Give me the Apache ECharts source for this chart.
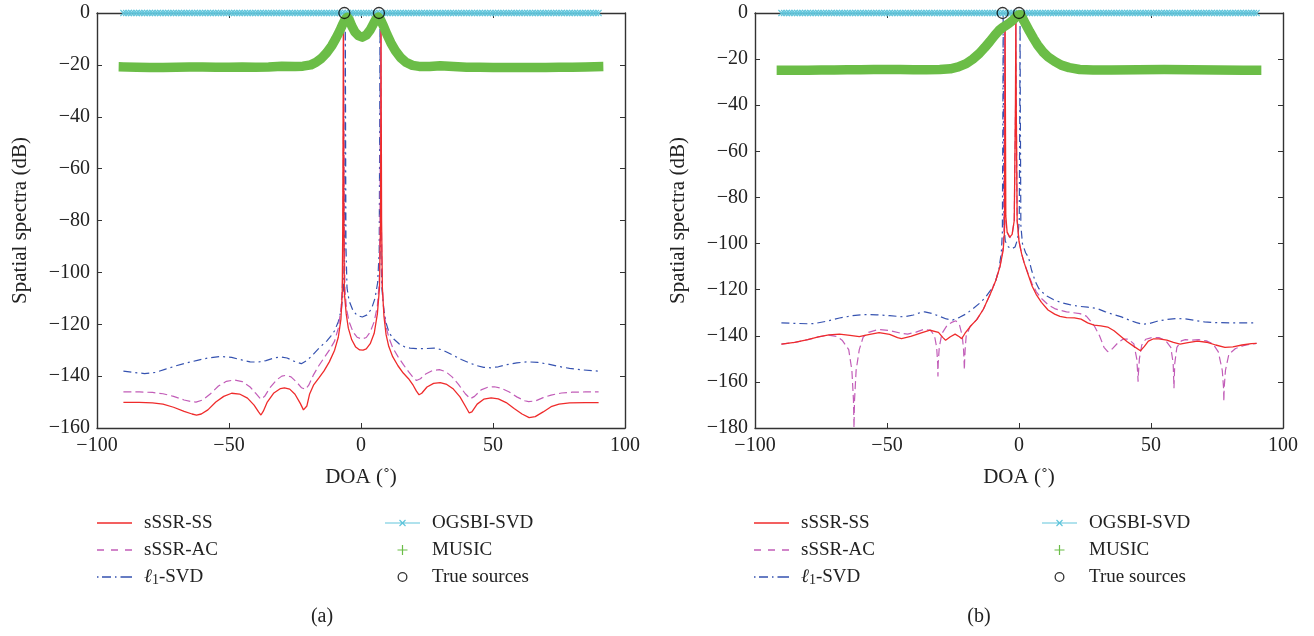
<!DOCTYPE html>
<html>
<head>
<meta charset="utf-8">
<script src="https://cdn.jsdelivr.net/npm/echarts@6/dist/echarts.min.js"></script>
<style>
html,body{margin:0;padding:0;background:#fff;}
#chart{width:1314px;height:636px;}
</style>
</head>
<body>
<div id="chart"></div>
<script>
// ---------- DATA (DOA in degrees, spectra in dB) ----------
const xTicks = [-100, -50, 0, 50, 100];
const seriesNames = ['sSSR-SS', 'sSSR-AC', 'ℓ1-SVD', 'OGSBI-SVD', 'MUSIC', 'True sources'];
const panelCaptions = ['(a)', '(b)'];

// Panel (a)
const a_ssrSS = [[-90,-150.1],[-84,-150.1],[-79,-150.3],[-75,-150.8],[-71,-152],[-67,-153.6],[-64,-154.6],[-62.3,-155],[-60.5,-154.6],[-58,-153],[-55,-150],[-52,-147.8],[-49,-146.6],[-46,-146.9],[-43,-148.5],[-40.5,-151.2],[-38.8,-153.8],[-37.9,-155],[-37,-153.5],[-35.5,-150],[-33,-146.5],[-30.5,-144.8],[-29,-144.5],[-27,-145],[-25,-147],[-23,-150.5],[-21.8,-153],[-21.2,-153.3],[-20.5,-151.5],[-19.5,-147],[-18,-143.5],[-16,-140.8],[-14,-138],[-12,-134.5],[-10,-130],[-8.6,-125],[-7.6,-118],[-7.1,-108],[-6.9,-80],[-6.75,-30],[-6.7,-4],[-6.65,-30],[-6.5,-80],[-6.3,-108],[-5.6,-116],[-4.8,-121.5],[-3.5,-126],[-2,-128.8],[-0.5,-129.9],[0.8,-130],[2,-129.5],[3.5,-127.5],[5,-123.5],[6.2,-116],[7.0,-106],[7.4,-80],[7.55,-30],[7.6,-4],[7.65,-30],[7.8,-80],[8.1,-106],[8.7,-117],[9.5,-124],[10.5,-128.5],[12,-132.5],[14,-136],[16,-138.8],[18,-141],[19.8,-143.6],[21,-145.8],[22,-147.2],[23,-146.6],[25,-144.2],[27.5,-142.8],[30,-142.5],[32.5,-143.2],[35,-145],[37.5,-148],[39.5,-151.5],[41,-154.2],[42,-153.8],[44,-150.8],[46.5,-148.9],[49.3,-148.4],[52,-148.8],[55,-150.2],[58,-152.5],[61,-154.6],[63.7,-156],[66,-155.6],[69,-153.8],[72,-151.8],[75,-150.8],[79,-150.3],[85,-150.2],[90,-150.2]];
const a_ssrAC = [[-90,-146.1],[-84,-146.1],[-79,-146.3],[-75,-146.8],[-71,-147.8],[-67,-149.2],[-64,-149.9],[-62.5,-150],[-60,-149.2],[-57,-146.8],[-54,-143.8],[-51,-142],[-48,-141.5],[-45,-142.1],[-42,-144.2],[-40,-146.5],[-38,-148.9],[-36.5,-147.8],[-34.5,-144.5],[-32,-141.5],[-30,-140],[-28.5,-139.7],[-26.5,-140.3],[-24.5,-142.2],[-22.5,-144.5],[-21,-145.1],[-19.8,-143.5],[-18,-139.5],[-16,-136],[-14,-133],[-12,-130],[-10,-126.5],[-8.6,-121.5],[-7.6,-114],[-7.0,-104],[-6.75,-80],[-6.6,-30],[-6.55,-4],[-6.5,-30],[-6.35,-80],[-6.1,-106],[-5.5,-114],[-4.5,-119],[-3,-123],[-1.5,-125],[0.3,-125.7],[2,-125.1],[3.5,-123],[5,-119],[6.2,-113],[6.9,-104],[7.2,-80],[7.4,-30],[7.5,-4],[7.55,-30],[7.7,-80],[8,-104],[8.6,-114],[9.5,-121],[10.5,-125],[12,-129],[14,-132.5],[16,-135.5],[18,-138.3],[19.5,-140.2],[21,-141.7],[22.5,-141],[24.5,-139.2],[27,-137.9],[29.7,-137.5],[32,-138.2],[34.5,-140.3],[37,-143.3],[39.5,-146.8],[41.4,-148.7],[43,-147.8],[45.5,-145.3],[48,-144.3],[50.5,-144.1],[53,-144.6],[56,-146],[59,-148],[62,-149.5],[63.5,-149.8],[66,-149.6],[69,-148.3],[72,-147.3],[76,-146.5],[80,-146.2],[85,-146.1],[90,-146.1]];
const a_l1svd = [[-90,-138.1],[-86,-138.6],[-82,-139],[-78,-138.6],[-74,-137.3],[-70,-136],[-66,-134.9],[-62,-133.9],[-58,-133],[-53.3,-132.4],[-49,-132.8],[-45,-133.8],[-42,-134.5],[-39,-134.6],[-36,-134],[-33,-133],[-30.5,-132.6],[-28,-133],[-25.5,-134.2],[-22.6,-135.2],[-20.5,-134],[-18,-131.5],[-15.5,-128.8],[-13,-126.5],[-11.5,-124.7],[-10,-122.5],[-8.6,-119],[-7.4,-114],[-6.6,-106],[-6.2,-90],[-6.05,-40],[-5.95,-2],[-5.85,-40],[-5.7,-90],[-5.3,-106],[-4.5,-111],[-3,-114.8],[-1.5,-116.6],[0.5,-117.2],[2.3,-116.4],[4,-114],[5.3,-110],[6.3,-104],[6.9,-92],[7.1,-40],[7.2,-2],[7.3,-40],[7.5,-90],[7.9,-106],[8.6,-114],[9.5,-119.5],[10.7,-123.4],[12.5,-125.8],[14.5,-127.6],[16.5,-128.7],[18.6,-129.2],[21,-129.4],[24,-129.4],[27.7,-129.2],[30.5,-129.8],[33,-131],[35.5,-132.3],[38,-133.6],[41,-134.9],[44,-136],[46.5,-136.6],[49,-136.8],[52,-136.4],[55,-135.6],[59,-134.9],[63,-134.5],[67,-134.7],[71,-135.4],[75,-136.3],[79,-137],[84,-137.6],[90,-138.1]];
const a_music = [[-90,-20.8],[-85,-20.9],[-80,-21],[-75,-21],[-70,-20.9],[-65,-20.8],[-60,-20.8],[-55,-20.9],[-50,-20.9],[-45,-20.8],[-40,-20.9],[-35,-20.8],[-30,-20.5],[-25,-20.6],[-22,-20.5],[-19,-20],[-17,-19],[-15,-17.5],[-13,-15.3],[-11,-12.5],[-9.5,-9.8],[-8,-6.8],[-7,-4.5],[-6,-2.5],[-5.2,-1.6],[-4.5,-2.5],[-3.5,-5],[-2.3,-7.3],[-1,-8.7],[0.5,-9.3],[2,-8.5],[3.5,-6.5],[4.8,-4],[5.8,-2.2],[6.6,-1.6],[7.4,-2.6],[8.5,-5],[9.8,-8.2],[11.3,-11.5],[13,-14.5],[15,-17.2],[17,-19],[19.5,-20.2],[22,-20.6],[26,-20.6],[30,-20.3],[35,-20.6],[40,-20.9],[45,-20.9],[50,-21],[55,-21],[60,-21],[65,-21],[70,-21],[75,-20.9],[80,-20.9],[85,-20.8],[90,-20.7]];
const a_sources = [[-6.3, 0], [6.8, 0]];

// Panel (b)
const b_ssrSS = [[-90,-143.6],[-85,-142.9],[-80,-141.7],[-76,-140.5],[-72,-139.6],[-68,-139.3],[-64,-139.8],[-60.5,-140.4],[-57,-139.5],[-53,-138.6],[-49,-139.4],[-46,-140.8],[-44.5,-141.2],[-41,-140.3],[-37,-138.7],[-33.7,-137.6],[-30.5,-138.5],[-28.8,-140.8],[-27.8,-141.9],[-26,-140.4],[-24.2,-139.3],[-22.6,-140.4],[-21.7,-141.3],[-20.5,-139],[-18.5,-136],[-16,-133],[-13.5,-128.5],[-10.8,-121.7],[-8.8,-116],[-7.2,-110],[-6,-103],[-5.5,-95],[-5.35,-40],[-5.25,-4],[-5.15,-40],[-5,-88],[-4.5,-95],[-3.5,-97.2],[-2.6,-96],[-1.8,-90],[-1.35,-40],[-1.2,-4],[-1.05,-40],[-0.7,-90],[0,-99],[1,-104.5],[2,-108.5],[3.5,-113.5],[5,-118.5],[6.5,-122],[8.5,-125.5],[11,-128.8],[13.5,-130.6],[15.5,-131.6],[18,-132.1],[21,-132.2],[23.5,-132.8],[26,-134.4],[28.4,-135.4],[31,-135.7],[33.6,-136.2],[36,-137.8],[38.5,-140.2],[41,-142.6],[43.5,-144.6],[46,-146.5],[47.5,-144.6],[49,-142.3],[51,-141.3],[53,-141.3],[56,-141.9],[58.5,-142.9],[61,-143.6],[64,-143],[67.6,-142.3],[71,-142.8],[74.5,-144],[78,-145],[81,-144.8],[84.5,-144],[88,-143.4],[90,-143.3]];
const b_ssrAC = [[-90,-143.6],[-85,-142.9],[-80,-141.7],[-76,-140.5],[-72.3,-139.7],[-69,-140.3],[-67,-141.9],[-64.5,-146],[-63.3,-155],[-62.7,-168],[-62.5,-180],[-62.3,-168],[-61.7,-155],[-60.5,-146],[-59,-140.5],[-57,-138.5],[-54,-137.5],[-52.7,-137.3],[-49,-137.7],[-45.5,-138.7],[-42.2,-139.3],[-39,-138.4],[-36,-137.2],[-33.5,-137.6],[-32,-140],[-31.2,-145],[-30.8,-152],[-30.7,-157.7],[-30.6,-152],[-30.2,-145],[-29.2,-139],[-27.2,-135.4],[-25.5,-134.2],[-23.9,-133.5],[-22.5,-135.5],[-21.5,-140],[-21,-146],[-20.8,-151],[-20.7,-154.8],[-20.6,-151],[-20.4,-146],[-20,-140],[-18.5,-136],[-16,-133],[-13.5,-128.5],[-10.8,-121.7],[-8.8,-116],[-7.2,-110],[-6.2,-103],[-5.7,-95],[-5.55,-40],[-5.45,-4],[-5.35,-40],[-5.2,-88],[-4.6,-95],[-3.5,-97.5],[-2.6,-96],[-1.8,-90],[-1.3,-40],[-1.15,-4],[-1.0,-40],[-0.7,-90],[0,-99],[1,-104.5],[2,-108.5],[3.5,-113.2],[5,-117.5],[6.5,-120.8],[8.5,-123.8],[11,-126.5],[13.5,-128.2],[15.3,-128.9],[18,-129.6],[20.5,-130],[23.1,-130.4],[25.5,-131.5],[28.4,-135.4],[30.5,-140],[32.2,-145],[33.6,-146.9],[35.5,-145.5],[37.5,-143],[39.5,-141.4],[41.5,-141.5],[43.5,-143.5],[44.6,-150],[45,-157],[45.1,-159.9],[45.2,-157],[45.6,-150],[46.5,-144],[48,-141.5],[50.6,-140.7],[53,-140.8],[55.5,-142],[57.5,-145],[58.4,-152],[58.7,-162.7],[59,-152],[59.8,-145],[61.5,-142.2],[63,-141.7],[65,-141.9],[68,-141.7],[71,-142.2],[73.5,-143.5],[75.5,-147],[77,-155],[77.5,-163],[77.6,-168.5],[77.7,-163],[78.2,-155],[79.5,-148],[82,-145.5],[85,-144.3],[88,-143.6],[90,-143.3]];
const b_l1svd = [[-90,-134.4],[-85,-134.6],[-80,-134.8],[-77.5,-134.7],[-73,-133.7],[-68,-132.3],[-63,-131.3],[-59.2,-130.8],[-54,-130.9],[-49,-131.3],[-43.5,-131.8],[-40,-131],[-37.5,-130],[-35.7,-129.6],[-33,-130.3],[-30,-131.6],[-27.5,-132.7],[-25.2,-133.2],[-22.5,-132],[-20,-130.5],[-17.4,-128.2],[-14.5,-125.5],[-12.5,-123],[-10.8,-120.3],[-9,-117],[-7.6,-111],[-6.7,-104],[-6.3,-95],[-6.1,-40],[-6.0,-1],[-5.9,-40],[-5.7,-92],[-5.2,-99],[-4,-101.5],[-2.8,-102.3],[-1.5,-101.5],[-0.5,-98],[0.1,-90],[0.3,-40],[0.4,-1],[0.5,-40],[0.7,-92],[1.3,-100],[2.5,-104],[3.6,-106],[4.8,-111.7],[6.2,-116.5],[7.5,-119.5],[10,-122.4],[13,-124.3],[16,-125.6],[19.2,-126.5],[22.5,-127.2],[26,-127.6],[29.7,-128.2],[32.5,-129.5],[35.5,-130.7],[38.8,-131.8],[42,-133.3],[44.5,-134.3],[46.7,-135],[49,-134.8],[52,-133.8],[56,-132.9],[59.7,-132.5],[63,-132.7],[66.5,-133.3],[70.2,-134],[75,-134.3],[80,-134.4],[85,-134.4],[90,-134.4]];
const b_music = [[-90,-24.8],[-85,-24.8],[-80,-24.8],[-75,-24.7],[-70,-24.7],[-65,-24.6],[-60,-24.6],[-55,-24.5],[-50,-24.5],[-45,-24.5],[-40,-24.6],[-35,-24.6],[-30,-24.5],[-26,-24.2],[-23,-23.4],[-20,-22],[-17.5,-20],[-15,-17.5],[-13,-15],[-11,-12.3],[-9.2,-9.7],[-7.6,-7.6],[-6.2,-6.3],[-5,-5.4],[-3.8,-4.5],[-2.5,-3.3],[-1.3,-2],[-0.2,-0.9],[0.6,-0.8],[1.4,-2.3],[2.5,-4.8],[4,-8],[5.5,-11],[7,-13.8],[9,-16.8],[11,-19],[13.5,-21],[16,-22.6],[19,-23.7],[23,-24.5],[28,-24.7],[35,-24.7],[45,-24.6],[55,-24.5],[65,-24.6],[75,-24.7],[85,-24.8],[90,-24.8]];
const b_sources = [[-6.2, 0], [0, 0]];

// OGSBI-SVD spectrum: 0 dB at every grid point from -90 to 90 deg (1 deg grid)
const ogsbiLevel = 0;
const ogsbiGridStart = -90, ogsbiGridEnd = 90, ogsbiGridStep = 1;

// ---------- STYLE ----------
const C = {red:'#ef2b2b', purple:'#c25db8', blue:'#3552b0', cyan:'#62c6dc', green:'#6bbd47', black:'#000'};
const FONT = '"Liberation Serif", "DejaVu Serif", serif';
const TICK_FS = 20, NAME_FS = 21, LEG_FS = 19;
const ICON_SOLID = 'path://M0,4.3L35,4.3L35,5.7L0,5.7Z';
const ICON_DASH = 'path://M0,4.3L7,4.3L7,5.7L0,5.7Z M14,4.3L21,4.3L21,5.7L14,5.7Z M28,4.3L35,4.3L35,5.7L28,5.7Z';
const ICON_DASHDOT = 'path://M0,4.3L1.5,4.3L1.5,5.7L0,5.7Z M5,4.3L14,4.3L14,5.7L5,5.7Z M18,4.3L19.5,4.3L19.5,5.7L18,5.7Z M23.5,4.3L35,4.3L35,5.7L23.5,5.7Z';
const ICON_XLINE = 'path://M0,4.4L35,4.4L35,5.6L0,5.6Z M14.08,2.42L14.92,1.58L20.92,7.58L20.08,8.42Z M14.08,7.58L20.08,1.58L20.92,2.42L14.92,8.42Z';
const ICON_PLUS = 'path://M4.4,0L5.6,0L5.6,4.4L10,4.4L10,5.6L5.6,5.6L5.6,10L4.4,10L4.4,5.6L0,5.6L0,4.4L4.4,4.4Z';
const ICON_RING = 'path://M5,0A5,5,0,1,1,5,10A5,5,0,1,1,5,0Z M5,1.3A3.7,3.7,0,1,0,5,8.7A3.7,3.7,0,1,0,5,1.3Z';
const XMARK = 'path://M0,0L10,10M10,0L0,10';

function ogsbiData() {
  const d = [];
  for (let x = ogsbiGridStart; x <= ogsbiGridEnd; x += ogsbiGridStep) d.push([x, ogsbiLevel]);
  return d;
}
const minusFmt = v => (v < 0 ? '\u2212' + Math.abs(v) : String(v));

const grids = [
  {left: 97, top: 13, width: 528, height: 415},
  {left: 755, top: 13, width: 528, height: 415}
];
const yMins = [-160, -180];

const xAxes = [], yAxes = [];
grids.forEach((g, i) => {
  const axisLine = {onZero: false, lineStyle: {color: '#333', width: 1.4}};
  xAxes.push({gridIndex: i, type: 'value', min: -100, max: 100, interval: 50, position: 'bottom',
    name: 'DOA (˚)', nameLocation: 'middle', nameGap: 39,
    nameTextStyle: {fontFamily: FONT, fontSize: NAME_FS, color: '#222'},
    axisLine, axisTick: {inside: true, length: 5, lineStyle: {color: '#333'}},
    axisLabel: {margin: 8, fontFamily: FONT, fontSize: TICK_FS, color: '#222', formatter: minusFmt},
    splitLine: {show: false}});
  xAxes.push({gridIndex: i, type: 'value', min: -100, max: 100, interval: 50, position: 'top',
    axisLine, axisTick: {inside: true, length: 5, lineStyle: {color: '#333'}},
    axisLabel: {show: false}, splitLine: {show: false}});
  yAxes.push({gridIndex: i, type: 'value', min: yMins[i], max: 0, interval: 20, position: 'left',
    name: 'Spatial spectra (dB)', nameLocation: 'middle', nameGap: 66,
    nameTextStyle: {fontFamily: FONT, fontSize: NAME_FS, color: '#222'},
    axisLine, axisTick: {inside: true, length: 5, lineStyle: {color: '#333'}},
    axisLabel: {margin: 7, fontFamily: FONT, fontSize: TICK_FS, color: '#222', formatter: minusFmt},
    splitLine: {show: false}});
  yAxes.push({gridIndex: i, type: 'value', min: yMins[i], max: 0, interval: 20, position: 'right',
    axisLine, axisTick: {inside: true, length: 5, lineStyle: {color: '#333'}},
    axisLabel: {show: false}, splitLine: {show: false}});
});

const panels = [
  {ss: a_ssrSS, ac: a_ssrAC, l1: a_l1svd, music: a_music, src: a_sources},
  {ss: b_ssrSS, ac: b_ssrAC, l1: b_l1svd, music: b_music, src: b_sources}
];
const series = [];
panels.forEach((p, i) => {
  const ax = {xAxisIndex: 2 * i, yAxisIndex: 2 * i};
  const base = Object.assign({type: 'line', symbol: 'none', showSymbol: false, animation: false, silent: true}, ax);
  series.push(Object.assign({}, base, {name: 'ℓ1-SVD', data: p.l1, z: 2, color: C.blue,
    lineStyle: {color: C.blue, width: 1.2, type: [8, 4, 2, 4]}}));
  series.push(Object.assign({}, base, {name: 'sSSR-AC', data: p.ac, z: 3, color: C.purple,
    lineStyle: {color: C.purple, width: 1.2, type: [8, 4]}}));
  series.push(Object.assign({}, base, {name: 'sSSR-SS', data: p.ss, z: 4, color: C.red,
    lineStyle: {color: C.red, width: 1.3}}));
  series.push(Object.assign({}, ax, {type: 'line', name: 'OGSBI-SVD', data: ogsbiData(), z: 5, animation: false, silent: true,
    symbol: XMARK, symbolSize: 6, showSymbol: true, color: C.cyan,
    itemStyle: {color: C.cyan, borderColor: C.cyan, borderWidth: 1.1},
    lineStyle: {color: C.cyan, width: 1}}));
  series.push(Object.assign({}, base, {name: 'MUSIC', data: p.music, z: 6, color: C.green,
    lineStyle: {color: C.green, width: 9.5, cap: 'square', join: 'round'}}));
  series.push(Object.assign({}, ax, {type: 'scatter', name: 'True sources', data: p.src, z: 7, animation: false, silent: true,
    symbol: 'circle', symbolSize: 11, color: C.black,
    itemStyle: {color: 'rgba(0,0,0,0)', borderColor: C.black, borderWidth: 1.3}}));
});

const legendItems = {
  'sSSR-SS': {icon: ICON_SOLID, color: C.red},
  'sSSR-AC': {icon: ICON_DASH, color: C.purple},
  'ℓ1-SVD': {icon: ICON_DASHDOT, color: C.blue},
  'OGSBI-SVD': {icon: ICON_XLINE, color: C.cyan},
  'MUSIC': {icon: ICON_PLUS, color: C.green},
  'True sources': {icon: ICON_RING, color: C.black}
};
function makeLegend(left, names) {
  return {
    left: left, top: 513, orient: 'vertical', padding: 0, itemWidth: 35, itemHeight: 10, itemGap: 7,
    selectedMode: false,
    textStyle: {fontFamily: FONT, fontSize: LEG_FS, lineHeight: 20, color: '#222', padding: [0, 0, 0, 7],
      rich: {
        i: {fontFamily: FONT, fontSize: LEG_FS, fontStyle: 'italic', color: '#222', lineHeight: 20},
        s: {fontFamily: FONT, fontSize: 14, color: '#222', lineHeight: 12, verticalAlign: 'bottom'},
        n: {fontFamily: FONT, fontSize: LEG_FS, color: '#222', lineHeight: 20}
      }},
    formatter: name => name === 'ℓ1-SVD' ? '{i|ℓ}{s|1}{n|-SVD}' : name,
    data: names.map(n => ({name: n, icon: legendItems[n].icon,
      itemStyle: {color: legendItems[n].color, borderWidth: 0}}))
  };
}
const leftNames = seriesNames.slice(0, 3), rightNames = seriesNames.slice(3);

const chart = echarts.init(document.getElementById('chart'), null, {renderer: 'canvas'});
chart.setOption({
  animation: false,
  backgroundColor: '#fff',
  textStyle: {fontFamily: FONT, fontSize: 18, color: '#222'},
  grid: grids,
  xAxis: xAxes,
  yAxis: yAxes,
  legend: [makeLegend(97, leftNames), makeLegend(385, rightNames), makeLegend(754, leftNames), makeLegend(1042, rightNames)],
  graphic: [
    {type: 'text', x: 322, y: 617, style: {text: panelCaptions[0], font: '20px ' + FONT, fill: '#222', align: 'center', verticalAlign: 'middle'}},
    {type: 'text', x: 979, y: 617, style: {text: panelCaptions[1], font: '20px ' + FONT, fill: '#222', align: 'center', verticalAlign: 'middle'}}
  ],
  series: series
});
</script>
</body>
</html>
